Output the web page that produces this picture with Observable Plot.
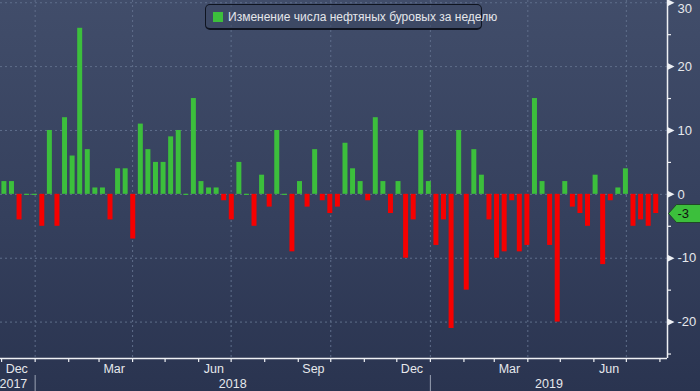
<!DOCTYPE html>
<html>
<head>
<meta charset="utf-8">
<script src="https://cdn.jsdelivr.net/npm/d3@7"></script>
<script src="https://cdn.jsdelivr.net/npm/@observablehq/plot@0.6"></script>
<style>
  html, body { margin: 0; padding: 0; background: #2b3551; }
  #wrap { position: relative; width: 700px; height: 391px; overflow: hidden;
          background: linear-gradient(180deg, #414d6a 0%, #35405d 55%, #2a3450 100%); }
  #wrap svg { position: absolute; left: 0; top: 0; }
  #legend { position: absolute; left: 205px; top: 4px; width: 277px; height: 26px;
            box-sizing: border-box; border: 1px solid #0f1420; border-bottom-width: 2px;
            border-radius: 5px; background: rgba(60,72,98,0.6);
            font: 12px "Liberation Sans", Arial, sans-serif; color: #e4e6ea; }
  #legend .sw { position: absolute; left: 7px; top: 7px; width: 10px; height: 10px; background: #3cbf3c; }
  #legend .tx { position: absolute; left: 22px; top: 5px; white-space: nowrap; }
</style>
</head>
<body>
<div id="wrap">
  <div id="legend"><span class="sw"></span><span class="tx" id="legendText"></span></div>
</div>
<script>
// ---- data ----
const weekStart = "2017-12-01"; // first weekly report (Friday)
const rigChanges = [2, 2, -4, 0, 0, -5, 10, -5, 12, 6, 26, 7, 1, 1, -4, 4, 4, -7, 11, 7,
  5, 5, 9, 10, 0, 15, 2, 1, 1, -1, -4, 5, 0, -5, 3, -2, 10, 0, -9, 2,
  -2, 7, -1, -3, -2, 8, 4, 2, -1, 12, 2, -3, 2, -10, -4, 10, 2, -8, -4, -21,
  10, -15, 7, 3, -4, -10, -9, -1, -9, -8, 15, 2, -8, -20, 2, -2, -3, -5, 3, -11,
  -1, 1, 4, -5, -4, -5, -3];
const monthLabels = ["Dec", "Mar", "Jun", "Sep", "Dec", "Mar", "Jun"];
const monthLabelMonths = ["2017-12-01", "2018-03-01", "2018-06-01", "2018-09-01", "2018-12-01", "2019-03-01", "2019-06-01"];
const yearLabels = ["2017", "2018", "2019"];
const quarterLines = ["2018-01-01", "2018-04-01", "2018-07-01", "2018-10-01", "2019-01-01", "2019-04-01", "2019-07-01"];
const yearBreaks = ["2018-01-01", "2019-01-01"];
const yMajor = [-20, -10, 0, 10, 20, 30];
const yMinor = [-25, -15, -5, 5, 15, 25];
const legendLabel = "Изменение числа нефтяных буровых за неделю";

// ---- build ----
const DAY = 864e5;
const GREEN = "#3cbf3c", RED = "#f60000", GRID = "#5f6e8b", AXIS = "#eef0f4", TXT = "#e6e8ec";
const data = rigChanges.map((v, i) => ({date: new Date(Date.parse(weekStart) + i * 7 * DAY), value: v}));
const xDomain = [new Date("2017-11-30"), new Date("2019-08-08")];
const yDomain = [-25.7, 30.35];
const W = 700, H = 391, mR = 33, mB = 33;
const unitPerPx = (yDomain[1] - yDomain[0]) / (H - mB);
const dayPerPx = (xDomain[1] - xDomain[0]) / DAY / (W - mR);
const pxDays = px => px * dayPerPx * DAY;
const x1 = d => new Date(+d.date + 0.3 * DAY), x2 = d => new Date(+d.date + 4.9 * DAY);

const monthTicks = d3.utcMonth.range(xDomain[0], xDomain[1]);
const monthMid = monthLabelMonths.map((m, i) => ({date: new Date(Date.parse(m) + 14 * DAY), label: monthLabels[i]}));
const yearPos = yearLabels.map(y => {
  const a = Math.max(+xDomain[0], Date.parse(y + "-01-01"));
  const b = Math.min(+xDomain[1], Date.parse((+y + 1) + "-01-01"));
  return {date: new Date((a + b) / 2), start: new Date(a), label: y};
});
const last = data[data.length - 1];

const tagSymbol = {draw(ctx) {
  ctx.moveTo(0, 0); ctx.lineTo(8, -9); ctx.lineTo(34, -9); ctx.lineTo(34, 9); ctx.lineTo(8, 9); ctx.closePath();
}};
const triSymbol = {draw(ctx) {
  ctx.moveTo(0, -3.5); ctx.lineTo(7, 0); ctx.lineTo(0, 3.5); ctx.closePath();
}};

const chart = Plot.plot({
  width: W, height: H,
  marginLeft: 0, marginRight: mR, marginTop: 0, marginBottom: mB,
  style: {background: "transparent", color: TXT, fontFamily: "'Liberation Sans', Arial, sans-serif", fontSize: "13px", overflow: "visible"},
  x: {type: "utc", domain: xDomain, axis: null},
  y: {type: "linear", domain: yDomain, axis: null},
  marks: [
    // grid
    Plot.ruleY(yMajor, {stroke: GRID, strokeDasharray: "2,3", strokeWidth: 1}),
    Plot.ruleX(quarterLines.map(d => new Date(d)), {stroke: GRID, strokeDasharray: "2,3", strokeWidth: 1}),
    // bars
    Plot.rectY(data.filter(d => d.value > 0), {x1, x2, y1: 0, y2: "value", fill: GREEN}),
    Plot.rectY(data.filter(d => d.value < 0), {x1, x2, y1: 0, y2: "value", fill: RED}),
    Plot.ruleY(data.filter(d => d.value === 0), {y: "value", x1, x2, stroke: GREEN, strokeWidth: 1.2}),
    // bottom axis
    Plot.ruleY([yDomain[0]], {stroke: AXIS, strokeWidth: 1.5}),
    Plot.ruleX(monthTicks, {y1: yDomain[0], y2: yDomain[0] - 4 * unitPerPx, stroke: AXIS, strokeWidth: 1.2}),
    Plot.text(monthMid, {x: "date", y: yDomain[0], text: "label", dy: 10, fill: TXT, fontSize: 12.5}),
    Plot.text(yearPos.slice(0, 1), {x: "start", y: yDomain[0], text: "label", dy: 25, dx: -1, textAnchor: "start", fill: TXT, fontSize: 12.5}),
    Plot.text(yearPos.slice(1), {x: "date", y: yDomain[0], text: "label", dy: 25, fill: TXT, fontSize: 12.5}),
    Plot.ruleX(yearBreaks.map(d => new Date(d)), {y1: yDomain[0] - 17 * unitPerPx, y2: yDomain[0] - 34 * unitPerPx, stroke: "#9aa2b3", strokeWidth: 1}),
    // right axis
    Plot.ruleX([xDomain[1]], {stroke: AXIS, strokeWidth: 1.5}),
    Plot.ruleY(yMinor, {x1: xDomain[1], x2: new Date(+xDomain[1] + pxDays(4)), stroke: AXIS, strokeWidth: 1.2}),
    Plot.dot(yMajor, {x: () => xDomain[1], y: d => d, symbol: triSymbol, fill: AXIS, stroke: "none"}),
    Plot.text(yMajor.filter(d => d < 30), {x: () => xDomain[1], y: d => d, text: d => String(d), dx: 10, textAnchor: "start", fill: TXT, fontSize: 13}),
    Plot.text(yMajor.filter(d => d >= 30), {x: () => xDomain[1], y: d => d, text: d => String(d), dx: 10, dy: 6, textAnchor: "start", fill: TXT, fontSize: 13}),
    // last value tag
    Plot.dot([last], {x: () => xDomain[1], y: "value", symbol: tagSymbol, fill: GREEN, stroke: "#1b3a20", strokeWidth: 0.8, dx: 1}),
    Plot.text([last], {x: () => xDomain[1], y: "value", text: d => String(d.value), dx: 10, textAnchor: "start", fill: "#111", fontSize: 13})
  ]
});
const wrap = document.getElementById("wrap");
wrap.insertBefore(chart, wrap.firstChild);
document.getElementById("legendText").textContent = legendLabel;
</script>
</body>
</html>
